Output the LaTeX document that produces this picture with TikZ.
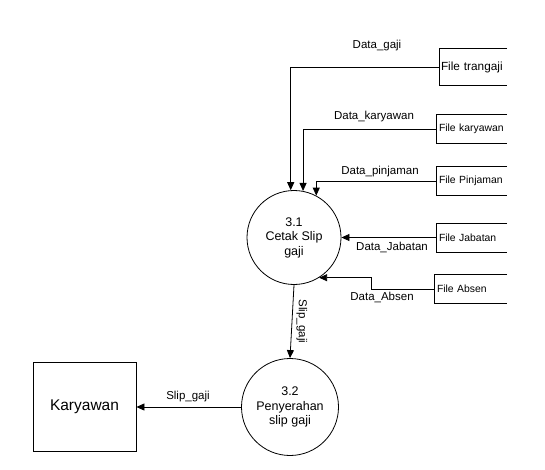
\documentclass[tikz,border=0pt]{standalone}
\usepackage{fontspec}
\setmainfont{Liberation Sans}
\usetikzlibrary{arrows.meta}

\tikzset{
  proses/.style={draw, circle, minimum size=#1, inner sep=0pt, align=center,
    font=\fontsize{12.5}{14.5}\selectfont},
  proses/.default=94pt,
  entitas/.style={draw, minimum width=103pt, minimum height=89pt,
    font=\fontsize{15.5}{18}\selectfont},
  berkas/.style={anchor=west, text width=#1, minimum height=29pt, inner sep=3pt,
    outer sep=0pt, align=left, font=\fontsize{10.4}{12}\selectfont},
  berkas/.default=65pt,
  aliran/.style={-{Triangle[length=8pt,width=7pt]}},
  ket/.style={inner sep=0pt, font=\fontsize{11.5}{13}\selectfont}
}

\begin{document}
\begin{tikzpicture}[x=1pt, y=-1pt, line width=0.8pt]
    \useasboundingbox (0,0) rectangle (545,470);

    % proses
    \node [proses] (p31) at (294,237.5) {3.1\\Cetak Slip\\gaji};
    \node [proses=97pt] (p32) at (290,407) {3.2\\Penyerahan\\slip gaji};
    \node [entitas] (kar) at (84.5,407) {Karyawan};

    % berkas data
    \node [berkas=64pt, minimum height=37pt, inner sep=2pt,
      font=\fontsize{11.8}{13}\selectfont] (ftr) at (439,67) {File trangaji};
    \node [berkas] (fkr) at (436,129) {File karyawan};
    \node [berkas] (fpj) at (436,181) {File Pinjaman};
    \node [berkas] (fjb) at (436,237.5) {File Jabatan};
    \node [berkas=67pt] (fab) at (434,289) {File Absen};

    \foreach \f in {ftr,fkr,fpj,fjb,fab}
      \draw (\f.north east) -- (\f.north west) -- (\f.south west) -- (\f.south east);

    % aliran data
    \draw [aliran] (ftr.west) -| (p31.94);
    \draw [aliran] (fkr.west) -| (p31.79);
    \draw [aliran] (fpj.west) -| (p31.62);
    \draw [aliran] (fjb.west) -- (p31.east);
    \draw [aliran] (fab.west) -- ++(-63,0) |- (p31.-58);
    \draw [aliran] (p31.south) -- (p32.north)
      node [ket, midway, anchor=south, rotate=-90, yshift=4pt] (lsv) {Slip\_gaji};
    \draw [aliran] (p32.west) -- (kar.east);

    % keterangan
    \node [ket] (lgj) at (377,46) {Data\_gaji};
    \node [ket] (lkr) at (374,117) {Data\_karyawan};
    \node [ket] (lpj) at (380,172) {Data\_pinjaman};
    \node [ket] (ljb) at (392,247) {Data\_Jabatan};
    \node [ket] (lab) at (382,297) {Data\_Absen};
    \node [ket] (lsh) at (188,397) {Slip\_gaji};
\end{tikzpicture}
\end{document}
